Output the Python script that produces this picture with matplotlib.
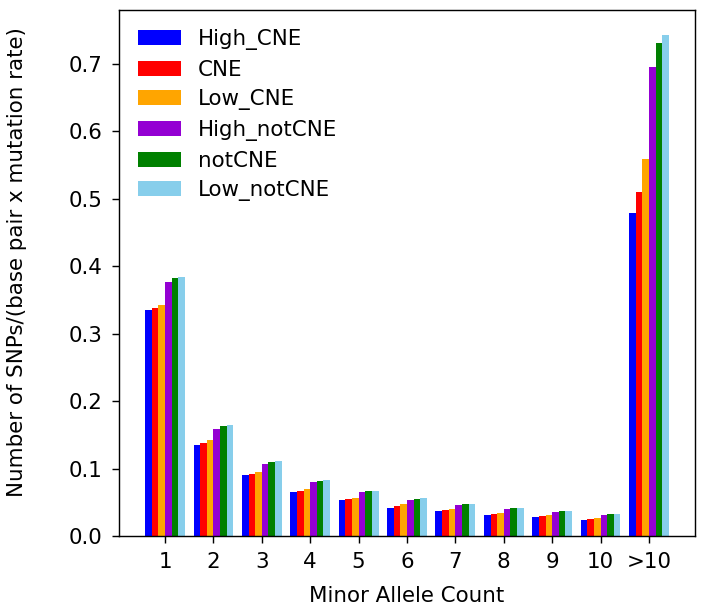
import numpy as np
import matplotlib
matplotlib.use("Agg")
import matplotlib.pyplot as plt

categories = ["1", "2", "3", "4", "5", "6", "7", "8", "9", "10", ">10"]

series_names = ["High_CNE", "CNE", "Low_CNE", "High_notCNE", "notCNE", "Low_notCNE"]
series_colors = ["blue", "red", "orange", "darkviolet", "green", "skyblue"]

high_cne = [0.335, 0.135, 0.090, 0.065, 0.053, 0.041, 0.037, 0.031, 0.028, 0.024, 0.479]
cne = [0.338, 0.138, 0.092, 0.067, 0.055, 0.044, 0.038, 0.033, 0.030, 0.025, 0.510]
low_cne = [0.343, 0.142, 0.095, 0.070, 0.056, 0.047, 0.040, 0.034, 0.031, 0.027, 0.559]
high_notcne = [0.377, 0.159, 0.107, 0.080, 0.065, 0.053, 0.046, 0.040, 0.036, 0.031, 0.696]
notcne = [0.383, 0.163, 0.110, 0.082, 0.067, 0.055, 0.047, 0.041, 0.037, 0.033, 0.731]
low_notcne = [0.384, 0.165, 0.111, 0.083, 0.067, 0.056, 0.047, 0.041, 0.037, 0.033, 0.743]

series_values = [high_cne, cne, low_cne, high_notcne, notcne, low_notcne]

plt.rcParams["font.size"] = 12

dpi = 128
fig = plt.figure(figsize=(702 / dpi, 609 / dpi), dpi=dpi)
ax = fig.add_axes([119 / 702, 73 / 609, (695 - 119) / 702, (536 - 10) / 609])

x = np.arange(1, len(categories) + 1)
width = 0.137
n = len(series_names)
for i, (name, color, vals) in enumerate(zip(series_names, series_colors, series_values)):
    ax.bar(x + (i - (n - 1) / 2) * width, vals, width=width, color=color, label=name)

ax.set_xticks(x)
ax.set_xticklabels(categories)
ax.set_ylim(0, 0.78)
ax.set_yticks(np.arange(0, 0.71, 0.1))
ax.tick_params(axis="x", length=4, pad=5)
ax.tick_params(axis="y", length=4, pad=5.5)
ax.set_xlabel("Minor Allele Count", labelpad=8)
ax.set_ylabel("Number of SNPs/(base pair x mutation rate)", labelpad=17)
ax.yaxis.set_label_coords(-0.16, 0.52)
ax.legend(loc="upper left", frameon=False, labelspacing=0.45)

fig.savefig("out.png", dpi=dpi)
